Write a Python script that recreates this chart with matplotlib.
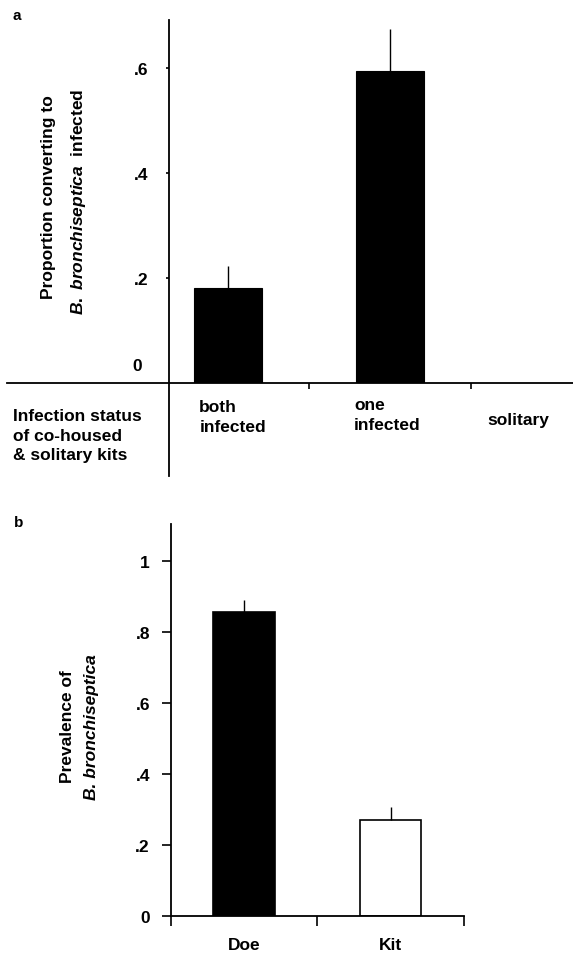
import matplotlib
matplotlib.use("Agg")
import matplotlib.pyplot as plt
import numpy as np

plt.rcParams['font.family'] = ['Liberation Sans', 'DejaVu Sans']
plt.rcParams['font.weight'] = 'bold'
plt.rcParams['mathtext.fontset'] = 'custom'
plt.rcParams['mathtext.rm'] = 'Liberation Sans:bold'
plt.rcParams['mathtext.it'] = 'Liberation Sans:italic:bold'

# panel a data
groups_a = ['both\ninfected', 'one\ninfected', 'solitary']
prop_a = [0.181, 0.594, 0.0]
err_a = [0.042, 0.080, 0.0]
yticks_a = [0.2, 0.4, 0.6]
yticklabels_a = ['.2', '.4', '.6']

# panel b data
groups_b = ['Doe', 'Kit']
prev_b = [0.856, 0.270]
err_b = [0.034, 0.035]
colors_b = ['black', 'white']
yticks_b = [0, 0.2, 0.4, 0.6, 0.8, 1.0]
yticklabels_b = ['0', '.2', '.4', '.6', '.8', '1']

W, H = 573, 954
fig = plt.figure(figsize=(W / 100, H / 100), dpi=100)


def px_axes(x0, y0, x1, y1):
    return fig.add_axes([x0 / W, 1 - y1 / H, (x1 - x0) / W, (y1 - y0) / H])


FS = 12.5

# ---------------- panel a ----------------
ax = px_axes(169, 20.7, 573, 384.3)
xa = np.arange(len(groups_a))
ax.bar(xa, prop_a, width=0.42, color='black', edgecolor='black', linewidth=0.8)
ax.errorbar(xa, prop_a, yerr=[np.zeros(len(err_a)), err_a], fmt='none',
            ecolor='black', elinewidth=1.0, capsize=0)
ax.set_xlim(-0.365, 2.132)
ax.set_ylim(0, 0.692)
for s in ax.spines.values():
    s.set_visible(False)
# axis lines (x axis runs left past the y axis, y axis runs below)
ax.plot([-1.364, 2.132], [0, 0], color='black', lw=1.3, clip_on=False)
ax.plot([-0.365, -0.365], [-0.176, 0.692], color='black', lw=1.3, clip_on=False)
ax.set_xticks([0.5, 1.5])
ax.set_xticklabels([])
ax.tick_params(axis='x', direction='out', length=4.5, width=1.2)
ax.set_yticks(yticks_a)
ax.set_yticklabels(yticklabels_a, fontsize=FS, fontweight='bold')
ax.tick_params(axis='y', direction='out', length=2, width=1.2, pad=13)
ax.annotate('0', xy=(-0.365, 0), xytext=(-19.5, 12.7), textcoords='offset points',
            ha='right', va='center', fontsize=FS, fontweight='bold')

label_x = [-0.178, 0.778, 1.602]
label_y = [-0.03, -0.027, -0.055]
for lx, ly, g in zip(label_x, label_y, groups_a):
    ax.text(lx, ly, g, ha='left', va='top', fontsize=FS, fontweight='bold',
            linespacing=1.38)

fig.text(12.8 / W, 1 - 409 / H, 'Infection status\nof co-housed\n& solitary kits',
         ha='left', va='top', fontsize=FS, fontweight='bold', linespacing=1.38)
fig.text(48.5 / W, 1 - 197 / H, 'Proportion converting to', rotation=90,
         ha='center', va='center', fontsize=FS, fontweight='bold')
fig.text(78.8 / W, 1 - 202 / H, r'$\mathit{B.\ bronchiseptica}$  infected',
         rotation=90, ha='center', va='center', fontsize=FS, fontweight='bold')
fig.text(16.4 / W, 1 - 16 / H, 'a', ha='center', va='center', fontsize=11,
         fontweight='bold')

# ---------------- panel b ----------------
bx = px_axes(170.8, 525, 463.8, 916.7)
xb = np.arange(len(groups_b))
bx.bar(xb, prev_b, width=0.42, color=colors_b, edgecolor='black', linewidth=1.2)
bx.errorbar(xb, prev_b, yerr=[np.zeros(len(err_b)), err_b], fmt='none',
            ecolor='black', elinewidth=1.0, capsize=0)
bx.set_xlim(-0.5, 1.5)
bx.set_ylim(0, 1.103)
bx.spines['top'].set_visible(False)
bx.spines['right'].set_visible(False)
bx.spines['left'].set_linewidth(1.3)
bx.spines['bottom'].set_linewidth(1.3)
bx.set_xticks(xb)
bx.set_xticklabels(groups_b, fontsize=FS, fontweight='bold')
bx.tick_params(axis='x', which='major', length=0, pad=15)
bx.set_xticks([-0.5, 0.5, 1.5], minor=True)
bx.tick_params(axis='x', which='minor', direction='out', length=7, width=1.2)
bx.set_yticks(yticks_b)
bx.set_yticklabels(yticklabels_b, fontsize=FS, fontweight='bold')
bx.tick_params(axis='y', direction='out', length=6.5, width=1.2, pad=8.5)

fig.text(67.6 / W, 1 - 727 / H, 'Prevalence of', rotation=90,
         ha='center', va='center', fontsize=FS, fontweight='bold')
fig.text(91.4 / W, 1 - 727.5 / H, 'B. bronchiseptica', rotation=90,
         ha='center', va='center', fontsize=FS, fontweight='bold', style='italic')
fig.text(18.3 / W, 1 - 523 / H, 'b', ha='center', va='center', fontsize=11,
         fontweight='bold')

fig.savefig('out.png', dpi=100)
